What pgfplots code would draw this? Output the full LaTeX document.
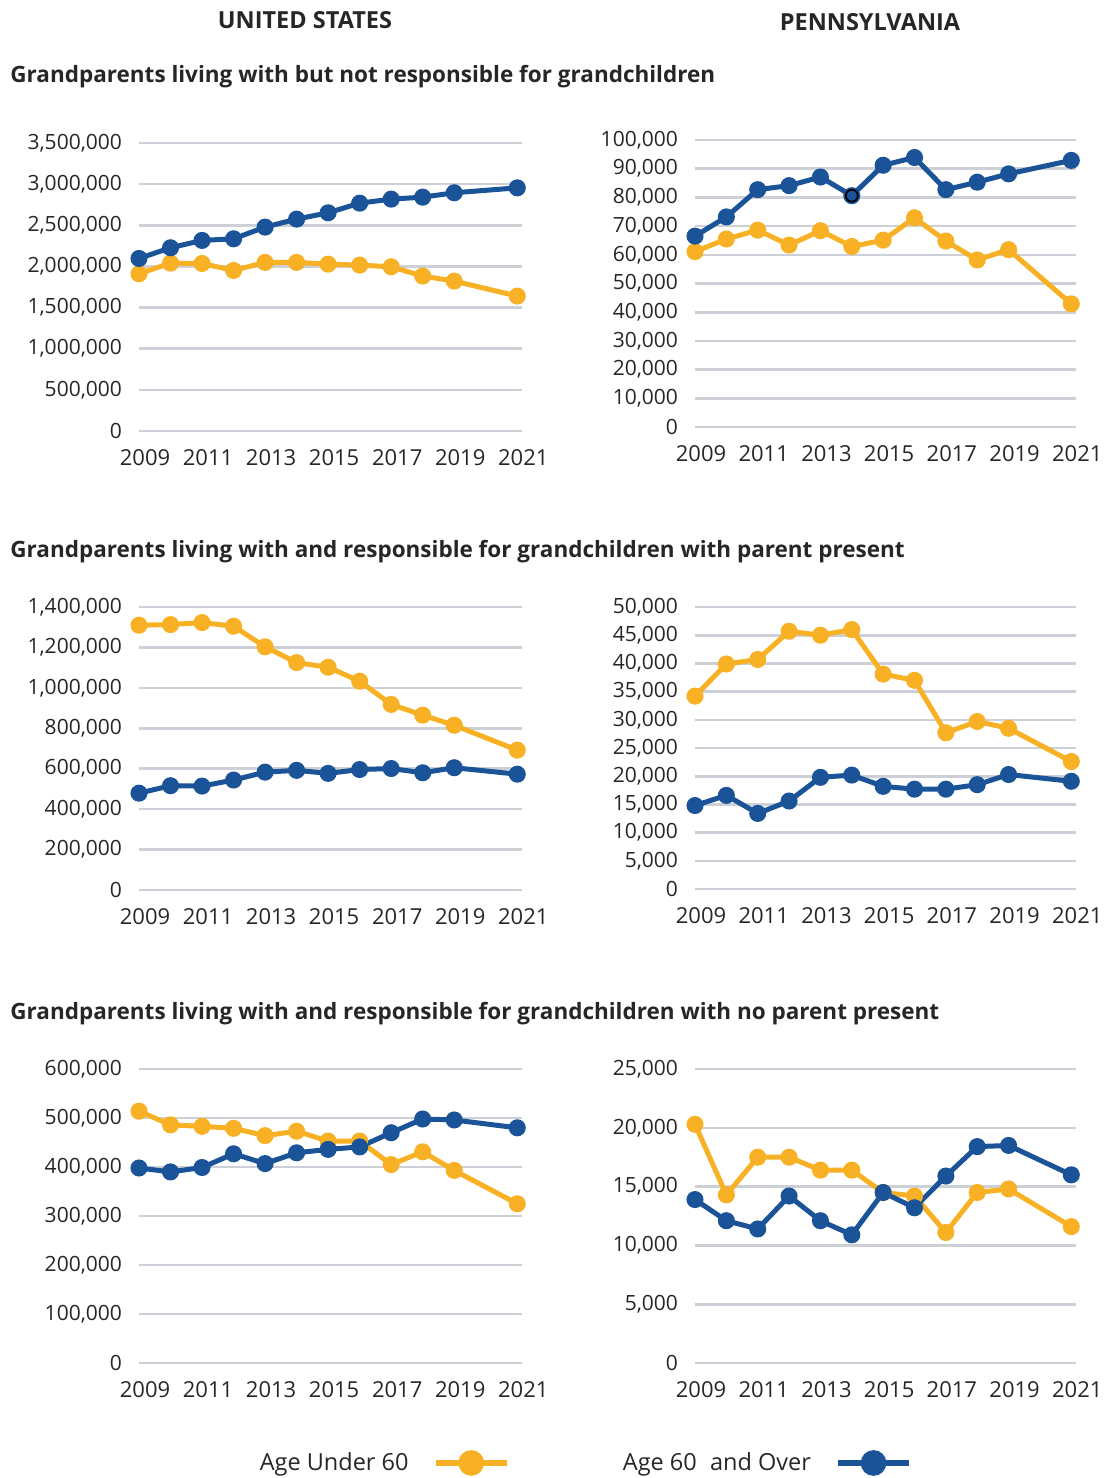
\documentclass[border=0pt]{standalone}
\usepackage{pgfplots}
\pgfplotsset{compat=1.18}
\usepackage{fontspec}
\setmainfont{Open Sans}
\definecolor{cOr}{HTML}{F8B124}
\definecolor{cBl}{HTML}{1A5397}
\definecolor{cGr}{HTML}{CDD0D6}
\definecolor{cTx}{HTML}{262626}

\pgfplotsset{
  panel/.style={
    scale only axis, clip=false,
    xmin=2009, xmax=2021.15, ymin=0,
    xtick={2009,2011,2013,2015,2017,2019,2021},
    xticklabels={2009,2011,2013,2015,2017,2019,2021},
    axis line style={draw=none}, tick style={draw=none},
    ymajorgrids, major grid style={cGr, line width=1.3pt},
    tick label style={font=\fontsize{10.5}{12}\selectfont, text=cTx},
    scaled y ticks=false,
    yticklabel style={/pgf/number format/fixed, /pgf/number format/1000 sep={,}, /pgf/number format/assume math mode=true, xshift=-5pt},
    xticklabel style={font=\fontsize{11}{12}\selectfont, yshift=-5.5pt, xshift=3pt},
  },
  ser/.style={line width=2.5pt, mark=*, mark size=3pt, mark options={solid}},
}

\begin{document}
\begin{tikzpicture}[x=0.5pt, y=-0.5pt]
\path[use as bounding box] (0,0) rectangle (1109,1478);

\node[inner sep=0pt, anchor=base, font=\fontsize{11.75}{13}\selectfont\bfseries, text=cTx] at (305,28) {UNITED STATES};
\node[inner sep=0pt, anchor=base, font=\fontsize{11.75}{13}\selectfont\bfseries, text=cTx] at (870,30) {PENNSYLVANIA};

\node[inner sep=0pt, anchor=base west, font=\fontsize{11.25}{13}\selectfont\bfseries, text=cTx] at (10,82) {Grandparents living with but not responsible for grandchildren};
\node[inner sep=0pt, anchor=base west, font=\fontsize{11.25}{13}\selectfont\bfseries, text=cTx] at (10,557) {Grandparents living with and responsible for grandchildren with parent present};
\node[inner sep=0pt, anchor=base west, font=\fontsize{11.25}{13}\selectfont\bfseries, text=cTx] at (10,1019) {Grandparents living with and responsible for grandchildren with no parent present};

% Panel 1: US, not responsible
\begin{axis}[panel, at={(69.5pt,-215.5pt)}, anchor=south west, width=191.5pt, height=144pt,
  ymax=3500000, ytick={0,500000,1000000,1500000,2000000,2500000,3000000,3500000}]
\addplot[ser, cOr] coordinates {(2009,1911000) (2010,2040000) (2011,2036000) (2012,1951000) (2013,2049000) (2014,2049000) (2015,2028000) (2016,2016000) (2017,1996000) (2018,1883000) (2019,1822000) (2021,1640000)};
\addplot[ser, cBl] coordinates {(2009,2097000) (2010,2227000) (2011,2316000) (2012,2336000) (2013,2478000) (2014,2575000) (2015,2652000) (2016,2769000) (2017,2818000) (2018,2842000) (2019,2895000) (2021,2955000)};
\end{axis}

% Panel 2: PA, not responsible
\begin{axis}[panel, at={(347.5pt,-213.5pt)}, anchor=south west, width=190.5pt, height=143.5pt,
  ymax=100000, ytick={0,10000,...,100000}]
\addplot[ser, cOr] coordinates {(2009,61100) (2010,65500) (2011,68600) (2012,63400) (2013,68400) (2014,62900) (2015,65100) (2016,72900) (2017,64800) (2018,58200) (2019,61800) (2021,42900)};
\addplot[ser, cBl] coordinates {(2009,66500) (2010,73200) (2011,82700) (2012,84100) (2013,87100) (2014,80600) (2015,91200) (2016,93900) (2017,82700) (2018,85300) (2019,88200) (2021,92900)};
\addplot[only marks, mark=*, mark size=3pt, mark options={draw=black, fill=cBl, line width=0.9pt}] coordinates {(2014,80600)};
\end{axis}

% Panel 3: US, parent present
\begin{axis}[panel, at={(69.5pt,-445pt)}, anchor=south west, width=191.5pt, height=141.5pt,
  ymax=1400000, ytick={0,200000,400000,600000,800000,1000000,1200000,1400000}]
\addplot[ser, cOr] coordinates {(2009,1310000) (2010,1313000) (2011,1323000) (2012,1305000) (2013,1203000) (2014,1125000) (2015,1102000) (2016,1033000) (2017,918000) (2018,865000) (2019,815000) (2021,692000)};
\addplot[ser, cBl] coordinates {(2009,479000) (2010,516000) (2011,514000) (2012,544000) (2013,583000) (2014,592000) (2015,577000) (2016,596000) (2017,601000) (2018,580000) (2019,605000) (2021,573000)};
\end{axis}

% Panel 4: PA, parent present
\begin{axis}[panel, at={(347.5pt,-444.5pt)}, anchor=south west, width=190.5pt, height=141pt,
  ymax=50000, ytick={0,5000,...,50000}]
\addplot[ser, cOr] coordinates {(2009,34200) (2010,39900) (2011,40700) (2012,45700) (2013,45000) (2014,46000) (2015,38100) (2016,37000) (2017,27700) (2018,29700) (2019,28500) (2021,22600)};
\addplot[ser, cBl] coordinates {(2009,14800) (2010,16600) (2011,13400) (2012,15600) (2013,19800) (2014,20200) (2015,18200) (2016,17700) (2017,17700) (2018,18500) (2019,20300) (2021,19100)};
\end{axis}

% Panel 5: US, no parent present (with legend)
\begin{axis}[panel, at={(69.5pt,-681.5pt)}, anchor=south west, width=191.5pt, height=147pt,
  ymax=600000, ytick={0,100000,...,600000},
  legend style={at={(1.162,-0.34)}, anchor=center, draw=none, fill=none,
    font=\fontsize{11.75}{13}\selectfont, text=cTx,
    /tikz/every odd column/.append style={column sep=10pt},
    /tikz/every even column/.append style={column sep=54.5pt}},
  legend columns=2, legend plot pos=right,
  legend image code/.code={\draw[mark repeat=2,mark phase=2,#1] plot coordinates {(0pt,0pt) (17.75pt,0pt) (35.5pt,0pt)};}]
\addplot[ser, cOr, forget plot] coordinates {(2009,514000) (2010,486000) (2011,483000) (2012,479000) (2013,464000) (2014,473000) (2015,453000) (2016,453000) (2017,405000) (2018,431000) (2019,393000) (2021,325000)};
\addplot[ser, cBl, forget plot] coordinates {(2009,398000) (2010,390000) (2011,399000) (2012,427000) (2013,407000) (2014,429000) (2015,436000) (2016,441000) (2017,470000) (2018,498000) (2019,496000) (2021,480000)};
\addlegendimage{cOr, line width=3.2pt, mark=*, mark size=4.8pt}
\addlegendentry{Age Under 60}
\addlegendimage{cBl, line width=3.2pt, mark=*, mark size=4.8pt}
\addlegendentry{Age 60\hspace{0.3em} and Over}
\end{axis}

% Panel 6: PA, no parent present
\begin{axis}[panel, at={(347.5pt,-681.5pt)}, anchor=south west, width=190.5pt, height=147pt,
  ymax=25000, ytick={0,5000,...,25000}]
\addplot[ser, cOr] coordinates {(2009,20300) (2010,14300) (2011,17500) (2012,17500) (2013,16400) (2014,16400) (2015,14500) (2016,14200) (2017,11100) (2018,14500) (2019,14800) (2021,11600)};
\addplot[ser, cBl] coordinates {(2009,13900) (2010,12100) (2011,11400) (2012,14200) (2013,12100) (2014,10900) (2015,14500) (2016,13200) (2017,15900) (2018,18400) (2019,18500) (2021,16000)};
\end{axis}
\end{tikzpicture}
\end{document}
